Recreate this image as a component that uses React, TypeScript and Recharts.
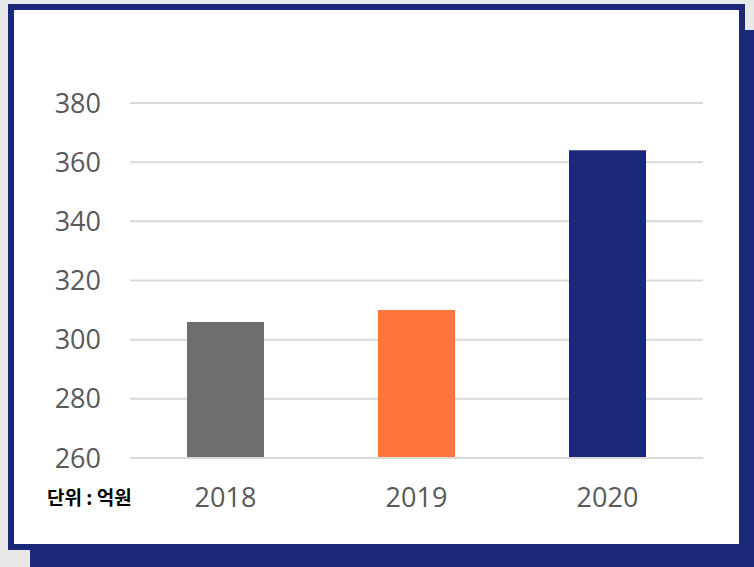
import { BarChart, Bar, XAxis, YAxis, CartesianGrid, Cell } from "recharts"

// 연도별 매출 (단위: 억원)
const years = ["2018", "2019", "2020"]
const revenue = [306, 310, 364]
const barColors = ["#6e6e6e", "#fe763e", "#1b2879"]
const yTicks = [260, 280, 300, 320, 340, 360, 380]

const NAVY = "#1b2879"

export default function App() {
  const data = years.map((year, i) => ({ year, value: revenue[i] }))

  return (
    <div
      style={{
        position: "absolute",
        left: 0,
        top: 0,
        width: 754,
        height: 567,
        overflow: "hidden",
        background: "#e8e8e8",
      }}
    >
      {/* 뒤쪽 그림자 박스 */}
      <div style={{ position: "absolute", left: 30, top: 30, width: 724, height: 537, background: NAVY }} />
      {/* 흰색 카드 */}
      <div
        style={{
          position: "absolute",
          left: 8,
          top: 4,
          width: 737,
          height: 546,
          boxSizing: "border-box",
          border: `6px solid ${NAVY}`,
          background: "#fff",
        }}
      />

      <div style={{ position: "absolute", left: 0, top: 0 }}>
        <BarChart width={754} height={567} data={data} margin={{ top: 103, right: 51, left: 0, bottom: 79 }}>
          <CartesianGrid vertical={false} stroke="#d9d9d9" strokeWidth={2} />
          <XAxis
            dataKey="year"
            height={30}
            axisLine={{ stroke: "#d9d9d9", strokeWidth: 2 }}
            tickLine={false}
            tickSize={0}
            tickMargin={30}
            tick={{ fontSize: 27, fill: "#595959", fontFamily: "'Open Sans', sans-serif" }}
          />
          <YAxis
            width={130}
            domain={[260, 380]}
            ticks={yTicks}
            axisLine={false}
            tickLine={false}
            tickSize={0}
            tickMargin={29}
            tick={{ fontSize: 27, fill: "#595959", fontFamily: "'Open Sans', sans-serif" }}
          />
          <Bar dataKey="value" barSize={77} isAnimationActive={false}>
            {data.map((d, i) => (
              <Cell key={d.year} fill={barColors[i]} />
            ))}
          </Bar>
        </BarChart>
      </div>

      <div
        style={{
          position: "absolute",
          left: 47,
          top: 484,
          fontSize: 19,
          fontWeight: 700,
          color: "#000",
          fontFamily: "'Noto Sans CJK KR', sans-serif",
          whiteSpace: "pre",
          lineHeight: "26px",
        }}
      >
        단위 : 억원
      </div>
    </div>
  )
}
